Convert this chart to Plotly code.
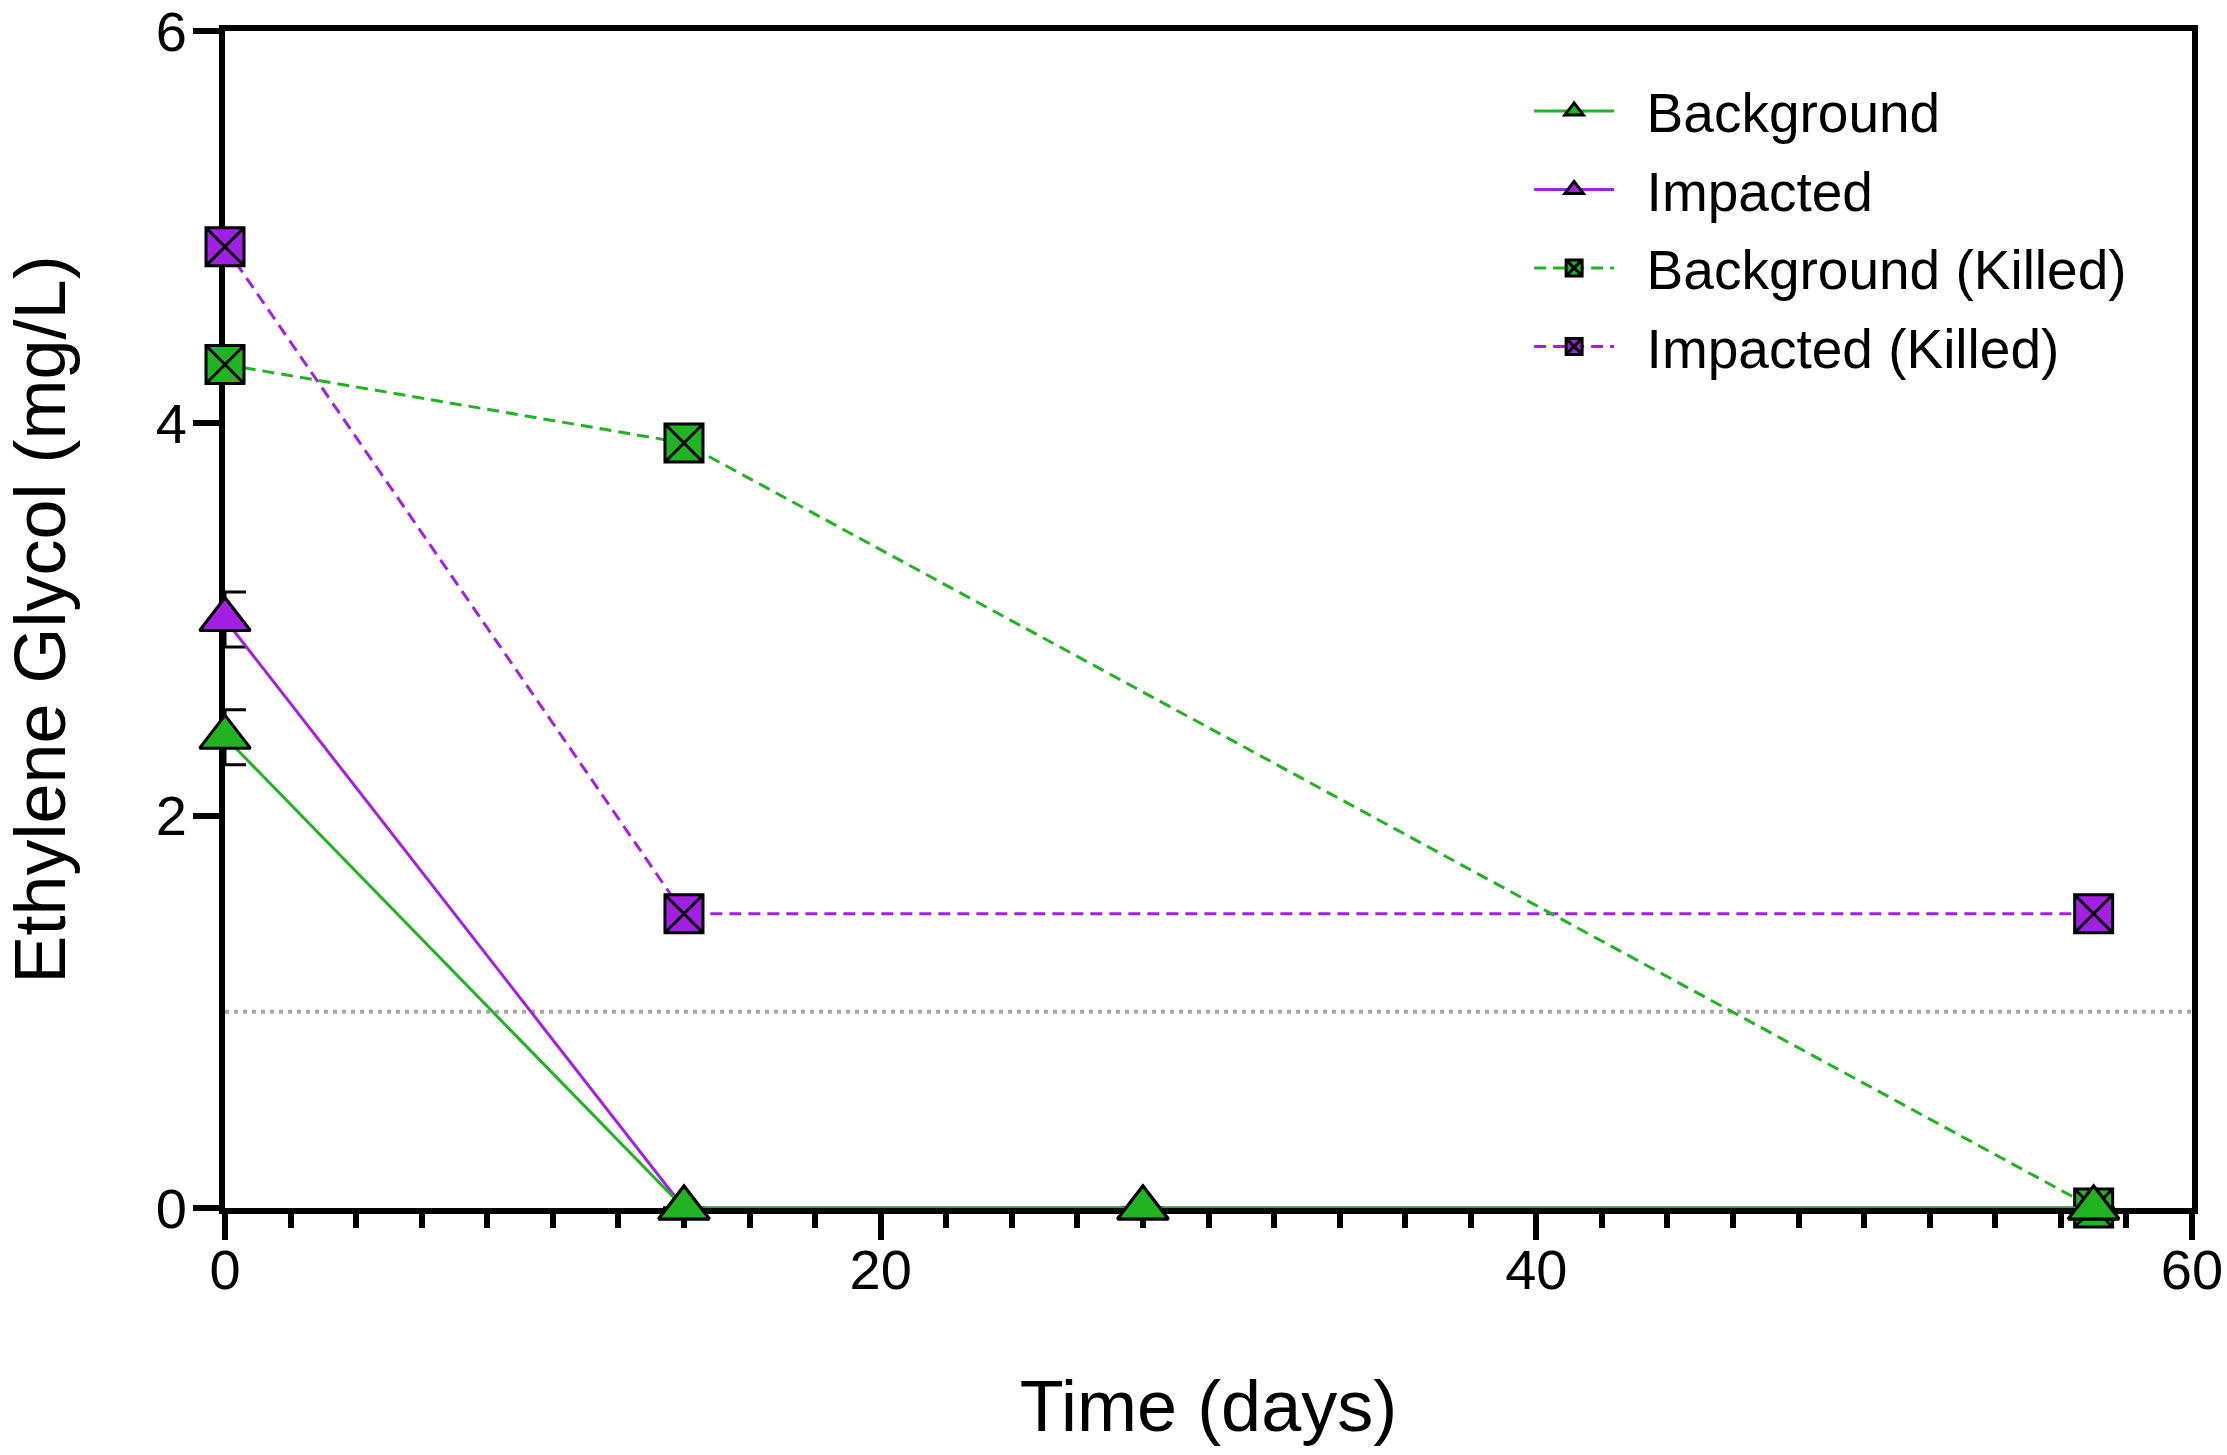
import plotly.graph_objects as go

# 시간 (days)
days = [0, 14, 28, 57]
days_killed = [0, 14, 57]

# Ethylene glycol (mg/L)
background = [2.4, 0, 0, 0]
background_err = [0.14, None, None, None]
impacted = [3.0, 0, 0, 0]
impacted_err = [0.14, None, None, None]
background_killed = [4.3, 3.9, 0]
impacted_killed = [4.9, 1.5, 1.5]

detection_limit = 1.0

x_ticks = [0, 20, 40, 60]
y_ticks = [0, 2, 4, 6]

GREEN = "#22B322"
PURPLE = "#A21FE4"
FONT = "Liberation Sans, Arial, sans-serif"

fig = go.Figure()

# 그리기 순서: killed 먼저 (triangle이 위에 오도록)
series = [
    dict(name="Impacted (Killed)", x=days_killed, y=impacted_killed, err=None,
         color=PURPLE, symbol="square-x", dash="dash", rank=4),
    dict(name="Background (Killed)", x=days_killed, y=background_killed, err=None,
         color=GREEN, symbol="square-x", dash="dash", rank=3),
    dict(name="Impacted", x=days, y=impacted, err=impacted_err,
         color=PURPLE, symbol="triangle-up", dash="solid", rank=2),
    dict(name="Background", x=days, y=background, err=background_err,
         color=GREEN, symbol="triangle-up", dash="solid", rank=1),
]

for s in series:
    is_square = s["symbol"] == "square-x"
    fig.add_trace(go.Scatter(
        x=s["x"],
        y=s["y"],
        name="\u2002" + s["name"],  # 범례 텍스트 간격
        legendgroup=s["name"],
        mode="lines+markers",
        legendrank=s["rank"],
        cliponaxis=False,
        line=dict(color=s["color"], width=3, dash="12px,7px" if s["dash"] == "dash" else "solid"),
        marker=dict(
            symbol=s["symbol"],
            size=38 if is_square else 44,
            color=s["color"],
            line=dict(color="black", width=3),
        ),
        error_y=dict(
            type="data",
            array=s["err"],
            visible=s["err"] is not None,
            color="black",
            thickness=3,
            width=21,
        ),
    ))

# 검출한계 점선
fig.add_hline(
    y=detection_limit,
    line=dict(color="#A8A8A8", width=4, dash="4px,5px"),
    layer="below",
)

axis_common = dict(
    showgrid=False,
    zeroline=False,
    showline=True,
    linecolor="black",
    linewidth=6,
    mirror=True,
    ticks="outside",
    tickcolor="black",
    tickwidth=6,
    ticklen=26,
    tickfont=dict(size=56, color="black", family=FONT),
    ticklabeloverflow="allow",
    layer="below traces",
    automargin=False,
)

fig.update_xaxes(
    range=[0, 60],
    tickvals=x_ticks,
    ticklabelstandoff=-18,
    title=dict(text="Time (days)", font=dict(size=72, color="black", family=FONT), standoff=82),
    minor=dict(dtick=2, tick0=0, ticks="outside", ticklen=14, tickwidth=6, tickcolor="black"),
    **axis_common,
)
fig.update_yaxes(
    range=[0, 6],
    tickvals=y_ticks,
    ticklabelstandoff=-5,
    title=dict(text="Ethylene Glycol (mg/L)", font=dict(size=72, color="black", family=FONT), standoff=72),
    **axis_common,
)

fig.update_layout(
    width=2227,
    height=1455,
    margin=dict(l=225, r=35, t=31, b=247),
    plot_bgcolor="white",
    paper_bgcolor="white",
    font=dict(family=FONT, color="black"),
    legend=dict(
        x=0.663,
        y=0.968,
        xanchor="left",
        yanchor="top",
        font=dict(size=55, color="black", family=FONT),
        bgcolor="rgba(0,0,0,0)",
        itemwidth=80,
        tracegroupgap=4,
    ),
)

# body 기본 margin 제거, modebar 숨김
fig.write_html(
    "out.html",
    config={"displayModeBar": False},
    post_script="document.body.style.margin='0';",
)
